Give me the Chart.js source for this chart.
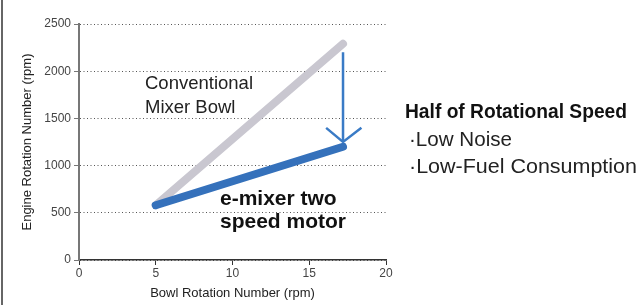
<!DOCTYPE html>
<html lang="en">
<head>
<meta charset="UTF-8">
<title>Engine vs Bowl Rotation</title>
<script src="https://cdn.jsdelivr.net/npm/chart.js@4/dist/chart.umd.min.js"></script>
<style>
    html, body { margin: 0; padding: 0; background: #fff; }
    #wrap { width: 643px; height: 305px; }
</style>
</head>
<body>
<div id="wrap"><canvas id="rotChart" width="643" height="305"></canvas></div>

<script>
// Data
var xTicks = [0, 5, 10, 15, 20];
var yTicks = [0, 500, 1000, 1500, 2000, 2500];
var conventionalX = [5, 17.2];
var conventionalY = [580, 2290];
var emixerX = [5, 17.2];
var emixerY = [580, 1200];
var arrowX = [17.2, 17.2];
var arrowY = [2200, 1250];
var arrowHeadX = [16.1, 17.2, 18.4];
var arrowHeadY = [1400, 1250, 1400];

function pts(xs, ys) {
    return xs.map(function (x, i) { return { x: x, y: ys[i] }; });
}

var sans = '"Liberation Sans", Arial, sans-serif';

// draw text squeezed to a given width (no condensed font installed)
function fitText(c, txt, x, y, w) {
    var m = c.measureText(txt).width;
    c.save();
    c.translate(x, y);
    c.scale(w / m, 1);
    c.fillText(txt, 0, 0);
    c.restore();
}

// annotation texts + left frame line
var textPlugin = {
    id: 'texts',
    afterDraw: function (chart) {
        var c = chart.ctx;
        c.save();
        c.strokeStyle = '#333';
        c.lineWidth = 1.5;
        c.beginPath();
        c.moveTo(2, 0);
        c.lineTo(2, 305);
        c.stroke();

        c.fillStyle = '#222';
        c.textBaseline = 'middle';
        c.textAlign = 'left';
        c.font = '18.5px ' + sans;
        c.fillText('Conventional', 145, 84);
        c.fillText('Mixer Bowl', 145, 108);

        c.fillStyle = '#111';
        c.font = 'bold 21px ' + sans;
        c.fillText('e-mixer two', 220, 199);
        c.fillText('speed motor', 220, 222);

        c.font = 'bold 21px ' + sans;
        fitText(c, 'Half of Rotational Speed', 405, 112, 222);
        c.fillStyle = '#222';
        c.font = '20px ' + sans;
        fitText(c, '\u00b7Low Noise', 409, 140, 103);
        fitText(c, '\u00b7Low-Fuel Consumption', 409, 167, 228);
        c.restore();
    }
};

var ctx = document.getElementById('rotChart').getContext('2d');
var rotChart = new Chart(ctx, {
    type: 'scatter',
    data: {
        datasets: [{
            label: 'Conventional Mixer Bowl',
            data: pts(conventionalX, conventionalY),
            showLine: true,
            borderColor: '#c9c7d0',
            borderWidth: 8,
            borderCapStyle: 'round',
            pointRadius: 0,
            order: 3
        }, {
            label: 'e-mixer two speed motor',
            data: pts(emixerX, emixerY),
            showLine: true,
            borderColor: '#3571bb',
            borderWidth: 8,
            borderCapStyle: 'round',
            pointRadius: 0,
            order: 2
        }, {
            label: 'arrow',
            data: pts(arrowX, arrowY),
            showLine: true,
            borderColor: '#3a7bc6',
            borderWidth: 2.5,
            pointRadius: 0,
            order: 1
        }, {
            label: 'arrow head',
            data: pts(arrowHeadX, arrowHeadY),
            showLine: true,
            borderColor: '#3a7bc6',
            borderWidth: 2.5,
            pointRadius: 0,
            order: 1
        }]
    },
    options: {
        responsive: false,
        animation: false,
        layout: { padding: { left: 0, top: 24, right: 257, bottom: 0 } },
        plugins: {
            legend: { display: false },
            tooltip: { enabled: false }
        },
        scales: {
            x: {
                type: 'linear',
                min: 0,
                max: 20,
                afterBuildTicks: function (s) { s.ticks = xTicks.map(function (v) { return { value: v }; }); },
                afterFit: function (s) { s.height = 45; },
                grid: { drawOnChartArea: false, drawTicks: true, tickLength: 5, color: '#333' },
                border: { color: '#333', width: 1.5 },
                ticks: {
                    color: '#444',
                    font: { family: sans, size: 12 },
                    padding: 1,
                    callback: function (v) { return String(v); }
                },
                title: {
                    display: true,
                    text: 'Bowl Rotation Number (rpm)',
                    color: '#222',
                    font: { family: sans, size: 13 },
                    padding: { top: 2, bottom: 4 }
                }
            },
            y: {
                min: 0,
                max: 2500,
                afterBuildTicks: function (s) { s.ticks = yTicks.map(function (v) { return { value: v }; }); },
                afterFit: function (s) { s.width = 79; },
                grid: {
                    color: '#555',
                    tickColor: '#777',
                    tickLength: 5,
                    tickBorderDash: [],
                    lineWidth: 1
                },
                border: { color: '#777', width: 2, dash: [1, 2.5] },
                ticks: {
                    color: '#444',
                    font: { family: sans, size: 12 },
                    padding: 3,
                    callback: function (v) { return String(v); }
                },
                title: {
                    display: true,
                    text: 'Engine Rotation Number (rpm)',
                    color: '#222',
                    font: { family: sans, size: 13 },
                    padding: { top: 20, bottom: 4 }
                }
            }
        }
    },
    plugins: [textPlugin]
});
</script>
</body>
</html>
